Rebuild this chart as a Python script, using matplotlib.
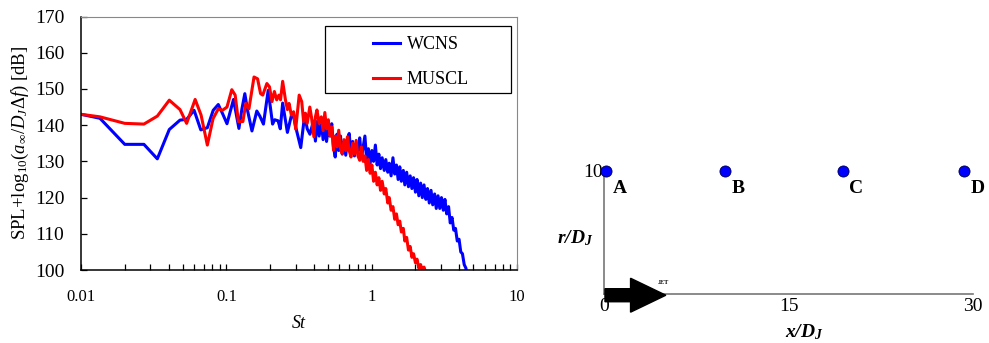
import matplotlib
matplotlib.use("Agg")
import matplotlib.pyplot as plt
from matplotlib.patches import Rectangle, FancyArrow
from matplotlib.ticker import LogLocator, FixedLocator, NullFormatter

plt.rcParams['font.family'] = 'Liberation Serif'
plt.rcParams['mathtext.fontset'] = 'custom'
plt.rcParams['mathtext.rm'] = 'Liberation Serif'
plt.rcParams['mathtext.it'] = 'Liberation Serif:italic'
plt.rcParams['mathtext.bf'] = 'Liberation Serif:bold:italic'
plt.rcParams['mathtext.fallback'] = 'stix'

# ---- spectrum data ----
wcns_st = [0.0100, 0.0135, 0.0200, 0.0271, 0.0335, 0.0405, 0.0480, 0.0533, 0.0600, 0.0667,
           0.0740, 0.0812, 0.0880, 0.0944, 0.1010, 0.1067, 0.1120, 0.1220, 0.1280, 0.1340,
           0.1400, 0.1500, 0.1620, 0.1700, 0.1800, 0.1940, 0.2080, 0.2150, 0.2270, 0.2350,
           0.2440, 0.2630, 0.2800, 0.2900, 0.3000, 0.3250, 0.3460, 0.3600, 0.3760, 0.3970,
           0.4100, 0.4200, 0.4350,
           0.450, 0.463, 0.476, 0.489, 0.503, 0.517, 0.531, 0.546, 0.561, 0.577,
           0.593, 0.610, 0.627, 0.645, 0.663, 0.681, 0.700, 0.720, 0.740, 0.761,
           0.782, 0.804, 0.827, 0.850, 0.874, 0.898, 0.923, 0.949, 0.976, 1.003,
           1.03, 1.06, 1.09, 1.12, 1.15, 1.18, 1.22, 1.25, 1.29, 1.32,
           1.36, 1.40, 1.44, 1.48, 1.52, 1.56, 1.60, 1.65, 1.69, 1.74,
           1.79, 1.84, 1.89, 1.94, 2.00, 2.05, 2.11, 2.17, 2.23, 2.29,
           2.36, 2.42, 2.49, 2.56, 2.63, 2.71, 2.78, 2.86, 2.94, 3.02,
           3.11, 3.19, 3.28, 3.38, 3.47, 3.57, 3.67, 3.77, 3.88, 3.99,
           4.10, 4.21, 4.33, 4.45, 4.55]
wcns_db = [143.0, 141.9, 134.7, 134.7, 130.7, 138.8, 141.4, 141.6, 144.1, 138.7,
           139.3, 144.1, 145.7, 143.1, 140.4, 144.0, 147.1, 139.1, 144.5, 148.7,
           144.0, 138.4, 143.9, 142.5, 140.3, 149.6, 140.3, 141.5, 141.2, 139.0,
           146.1, 138.0, 142.6, 142.5, 139.5, 133.8, 142.9, 139.0, 137.5, 141.1,
           135.6, 141.0, 137.0,
           141.0, 136.0, 140.5, 135.5, 139.5, 137.0, 140.4, 134.0, 131.2, 137.5,
           133.0, 137.0, 132.0, 135.5, 131.7, 136.0, 137.7, 132.0, 135.5, 131.5,
           134.5, 133.0, 136.5, 131.0, 134.0, 137.0, 130.3, 133.5, 129.5, 133.0,
           130.0, 134.5, 129.0, 132.0, 128.0, 131.0, 127.5, 130.5, 127.0, 129.5,
           126.0, 131.0, 126.5, 129.0, 125.0, 128.5, 124.5, 127.5, 123.5, 127.0,
           123.0, 126.0, 122.5, 125.5, 121.5, 125.0, 120.5, 124.0, 120.0, 123.5,
           119.5, 122.5, 118.5, 122.0, 118.0, 121.0, 117.0, 120.5, 117.0, 120.0,
           116.5, 119.5, 115.5, 117.5, 113.0, 114.5, 111.0, 111.5, 108.0, 108.5,
           105.0, 104.5, 101.5, 100.5, 97.0]

muscl_st = [0.0100, 0.0135, 0.0200, 0.0271, 0.0335, 0.0405, 0.0480, 0.0533, 0.0610, 0.0670,
            0.0740, 0.0810, 0.0880, 0.0940, 0.1010, 0.1090, 0.1150, 0.1210, 0.1300, 0.1360,
            0.1430, 0.1550, 0.1640, 0.1720, 0.1780, 0.1900, 0.1980, 0.2060, 0.2140, 0.2220,
            0.2300, 0.2360, 0.2440, 0.2550, 0.2630, 0.2700, 0.2800, 0.2900, 0.3000, 0.3170,
            0.3300, 0.3400, 0.3500, 0.3600, 0.3750, 0.3850, 0.4000, 0.4100, 0.4200, 0.4350,
            0.450, 0.463, 0.476, 0.489, 0.503, 0.517, 0.531, 0.546, 0.561, 0.577,
            0.593, 0.610, 0.627, 0.645, 0.663, 0.681, 0.700, 0.720, 0.740, 0.761,
            0.782, 0.804, 0.827, 0.850, 0.874, 0.898, 0.923, 0.949, 0.976, 1.003,
            1.03, 1.06, 1.09, 1.12, 1.15, 1.18, 1.22, 1.25, 1.29, 1.32,
            1.36, 1.40, 1.44, 1.48, 1.52, 1.56, 1.60, 1.65, 1.69, 1.74,
            1.79, 1.84, 1.89, 1.94, 2.00, 2.05, 2.11, 2.17, 2.23, 2.29,
            2.36, 2.42]
muscl_db = [143.0, 142.3, 140.5, 140.3, 142.5, 146.9, 144.3, 140.5, 147.1, 142.8,
            134.5, 141.8, 144.5, 144.1, 145.0, 149.8, 148.3, 141.0, 141.0, 146.0,
            144.5, 153.3, 152.8, 148.7, 148.3, 151.5, 150.6, 146.5, 149.3, 147.0,
            148.3, 147.0, 152.1, 147.0, 144.3, 146.0, 142.8, 143.7, 138.9, 148.3,
            146.5, 141.0, 143.3, 140.5, 145.0, 142.3, 136.8, 142.3, 144.2, 140.5,
            142.3, 138.5, 143.5, 139.0, 141.5, 137.0, 139.5, 133.1, 137.0, 134.0,
            138.6, 133.5, 132.2, 136.0, 133.0, 136.8, 133.0, 131.2, 135.0, 132.0,
            135.8, 131.5, 130.3, 134.0, 130.0, 131.5, 127.5, 130.5, 126.7, 129.0,
            124.5, 127.0, 123.5, 125.5, 122.0, 124.5, 121.0, 122.5, 118.5, 120.0,
            116.5, 117.5, 114.0, 115.5, 112.5, 113.5, 110.5, 111.5, 108.0, 109.0,
            105.5, 106.5, 103.5, 104.5, 102.0, 103.0, 100.5, 101.5, 99.8, 100.8,
            99.0, 97.0]

# ---- observer positions ----
obs_names = ['A', 'B', 'C', 'D']
obs_x = [0.2, 9.8, 19.4, 29.3]
obs_r = [10, 10, 10, 10]

fig = plt.figure(figsize=(9.89, 3.43), dpi=100)

# ---------------- left: spectra ----------------
ax = fig.add_axes([0.0819, 0.2128, 0.4409, 0.7390])
ax.plot(wcns_st, wcns_db, color='#0000ff', lw=2.2, label='WCNS')
ax.plot(muscl_st, muscl_db, color='#ff0000', lw=2.2, label='MUSCL')
ax.set_xscale('log')
ax.set_xlim(0.01, 10)
ax.set_ylim(100, 170)
ax.set_yticks(range(100, 171, 10))
ax.xaxis.set_major_locator(FixedLocator([0.01, 0.1, 1, 10]))
ax.set_xticklabels(['0.01', '0.1', '1', '10'])
ax.xaxis.set_minor_locator(LogLocator(base=10, subs=range(2, 10)))
ax.xaxis.set_minor_formatter(NullFormatter())
ax.tick_params(axis='both', which='both', direction='in', length=4.5, width=0.9)
ax.tick_params(axis='y', labelsize=14, pad=12, right=False)
ax.tick_params(axis='x', labelsize=12, pad=14, top=False)
ax.tick_params(axis='x', which='minor', top=False)
for s in ['left', 'bottom']:
    ax.spines[s].set_linewidth(1.1)
    ax.spines[s].set_color('black')
for s in ['top', 'right']:
    ax.spines[s].set_linewidth(0.8)
    ax.spines[s].set_color('#888888')
ax.set_xlabel('St', fontsize=13, style='italic', labelpad=7)
ax.set_ylabel(r'SPL+log$_{10}$($a_\infty$/$D_J\Delta f$) [dB]', fontsize=13.5, labelpad=3)

ax.add_patch(Rectangle((0.560, 0.698), 0.426, 0.265, transform=ax.transAxes,
                       fill=False, edgecolor='black', lw=0.9, zorder=5))
ax.legend(loc='center', bbox_to_anchor=(0.78, 0.82), frameon=False, fontsize=13,
          handlelength=1.5, handletextpad=0.35, labelspacing=1.0)

# ---------------- right: observer layout ----------------
bx = fig.add_axes([0.6107, 0.1429, 0.3731, 0.3586])
bx.set_xlim(0, 30)
bx.set_ylim(0, 10)
for s in ['top', 'right']:
    bx.spines[s].set_visible(False)
for s in ['left', 'bottom']:
    bx.spines[s].set_color('#777777')
    bx.spines[s].set_linewidth(1.2)
bx.set_xticks([0, 15, 30])
bx.set_yticks([10])
bx.tick_params(length=0, labelsize=14, pad=3)
bx.tick_params(axis='y', pad=1)

bx.add_patch(FancyArrow(0.08, -0.1, 4.95, 0, width=1.06, head_width=2.76,
                        head_length=2.87, length_includes_head=True,
                        color='black', clip_on=False, zorder=4))
bx.text(4.8, 0.9, 'JET', fontsize=4.5, fontweight='bold', ha='center', va='center')

bx.scatter(obs_x, obs_r, s=64, color='#0000ff', edgecolor='#000044', linewidth=0.6,
           zorder=5, clip_on=False)
for name, x, r in zip(obs_names, obs_x, obs_r):
    bx.text(x + 1.1, r - 1.45, name, fontsize=14, fontweight='bold',
            ha='center', va='center')

bx.text(16.3, -3.1, r'$\mathbf{x/D_J}$', fontsize=14, ha='center', va='center')
bx.text(-2.3, 4.55, r'$\mathbf{r/D_J}$', fontsize=14, ha='center', va='center')

fig.savefig('out.png', dpi=100)
